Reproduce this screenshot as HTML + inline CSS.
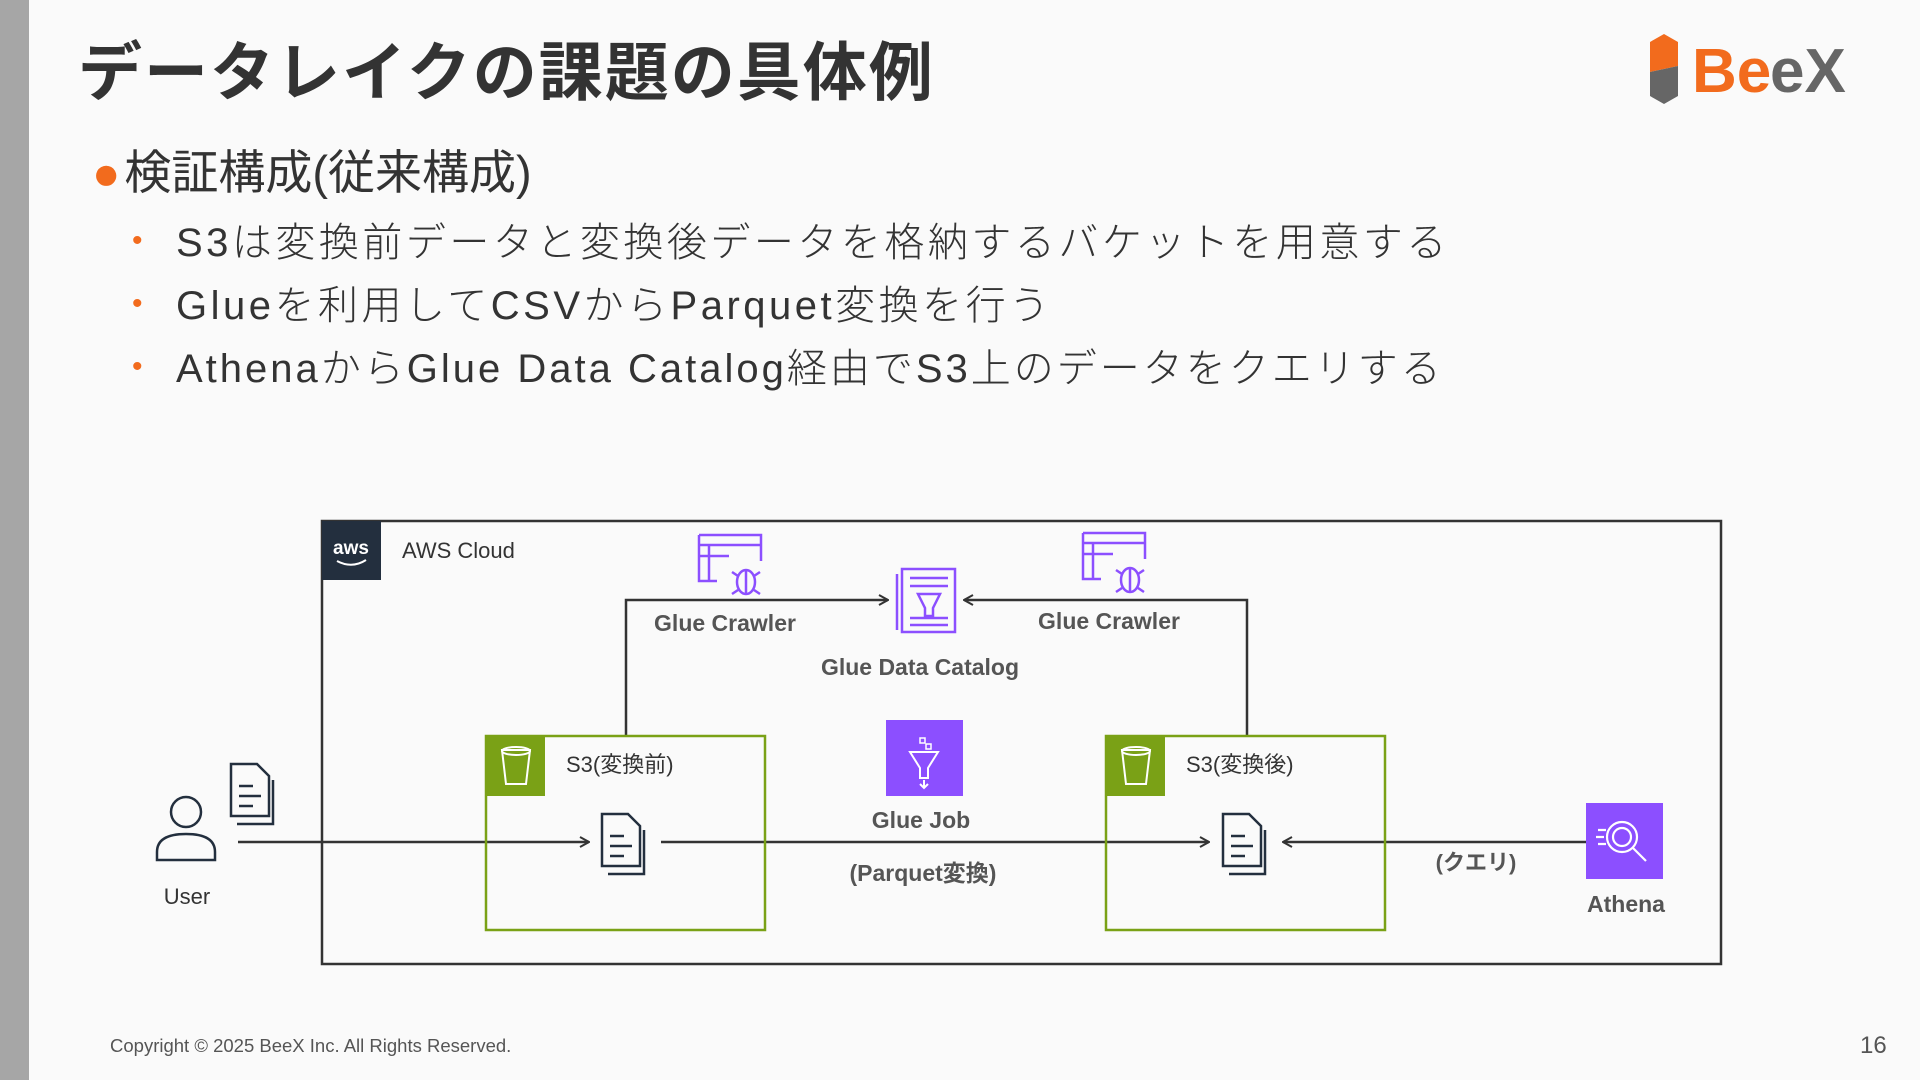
<!DOCTYPE html>
<html><head><meta charset="utf-8"><style>
html,body{margin:0;padding:0;}
body{width:1920px;height:1080px;position:relative;background:#fafafa;overflow:hidden;font-family:"Liberation Sans","Noto Sans CJK JP",sans-serif;color:#333;}
.abs{position:absolute;white-space:nowrap;}
.bar{left:0;top:0;width:29px;height:1080px;background:#a6a6a6;}
.title{left:78px;top:22px;font-size:64px;font-weight:bold;color:#333;letter-spacing:2px;}
.h2{left:92px;top:134px;font-size:47px;color:#333;}
.h2 span{color:#f26b1d;margin-right:4px;}
.li{left:132px;font-size:40px;letter-spacing:3.5px;color:#333;font-weight:300;}
.li b{color:#f26b1d;font-weight:normal;display:inline-block;width:44px;font-size:30px;vertical-align:middle;position:relative;top:-4px;}
.copy{left:110px;top:1035px;font-size:18.5px;color:#555;}
.pg{left:1860px;top:1032px;font-size:24px;color:#555;}
</style></head><body>
<div class="abs bar"></div>
<div class="abs title">データレイクの課題の具体例</div>
<div class="abs h2"><span>●</span>検証構成(従来構成)</div>
<div class="abs li" style="top:210px"><b>•</b>S3は変換前データと変換後データを格納するバケットを用意する</div>
<div class="abs li" style="top:273px"><b>•</b>Glueを利用してCSVからParquet変換を行う</div>
<div class="abs li" style="top:336px;letter-spacing:3px"><b>•</b>AthenaからGlue Data Catalog経由でS3上のデータをクエリする</div>
<div class="abs copy">Copyright © 2025 BeeX Inc. All Rights Reserved.</div>
<div class="abs pg">16</div>

<svg class="abs" style="left:0;top:0" width="1920" height="1080" viewBox="0 0 1920 1080" font-family="Liberation Sans, Noto Sans CJK JP, sans-serif">
<defs>
<marker id="ar" viewBox="0 0 12 12" refX="11" refY="6" markerWidth="12" markerHeight="12" markerUnits="userSpaceOnUse" orient="auto"><path d="M2,1 L11,6 L2,11" fill="none" stroke="#333" stroke-width="2"/></marker>
</defs>
<polygon points="1664,34 1678,42 1678,66 1650,72 1650,42" fill="#f26b1d"/>
<polygon points="1650,72 1678,66 1678,96 1664,104 1650,96" fill="#666"/>
<text x="1692" y="92" font-size="62" font-weight="bold" fill="#f26b1d">Be</text>
<text x="1770" y="92" font-size="62" font-weight="bold" fill="#666">eX</text>

<rect x="322" y="521" width="1399" height="443" fill="none" stroke="#333" stroke-width="2.5"/>
<rect x="322" y="521" width="59" height="59" fill="#232f3e"/>
<text x="351" y="554" font-size="19" fill="#fff" text-anchor="middle" font-weight="bold">aws</text>
<path d="M337,561 Q352,569 366,560" stroke="#fff" stroke-width="2" fill="none"/>
<text x="402" y="558" font-size="22" fill="#333">AWS Cloud</text>

<g stroke="#333" stroke-width="2.5" fill="none">
<polyline points="626,736 626,600 888,600" marker-end="url(#ar)"/>
<polyline points="1247,736 1247,600 964,600" marker-end="url(#ar)"/>
<line x1="238" y1="842" x2="589" y2="842" marker-end="url(#ar)"/>
<line x1="661" y1="842" x2="1209" y2="842" marker-end="url(#ar)"/>
<line x1="1586" y1="842" x2="1283" y2="842" marker-end="url(#ar)"/>
</g>

<g>
<rect x="486" y="736" width="279" height="194" fill="none" stroke="#7aa116" stroke-width="2.5"/>
<rect x="486" y="736" width="59" height="60" fill="#7aa116"/>
<path d="M502,750 h28 l-4,34 h-20 z" fill="none" stroke="#fff" stroke-width="2"/>
<ellipse cx="516" cy="751" rx="14" ry="4" fill="none" stroke="#fff" stroke-width="2"/>
<text x="566" y="772" font-size="22" fill="#333">S3(変換前)</text>
<rect x="1106" y="736" width="279" height="194" fill="none" stroke="#7aa116" stroke-width="2.5"/>
<rect x="1106" y="736" width="59" height="60" fill="#7aa116"/>
<path d="M1122,750 h28 l-4,34 h-20 z" fill="none" stroke="#fff" stroke-width="2"/>
<ellipse cx="1136" cy="751" rx="14" ry="4" fill="none" stroke="#fff" stroke-width="2"/>
<text x="1186" y="772" font-size="22" fill="#333">S3(変換後)</text>
</g>

<g fill="none" stroke="#232f3e" stroke-width="2.5">
<path d="M602,814 h26 l12,12 v40 h-38 z M610,836 h14 M610,846 h22 M610,856 h14 M644,830 v44 h-36"/>
<path d="M1223,814 h26 l12,12 v40 h-38 z M1231,836 h14 M1231,846 h22 M1231,856 h14 M1265,830 v44 h-36"/>
<path d="M231,764 h26 l12,12 v40 h-38 z M239,786 h14 M239,796 h22 M239,806 h14 M273,780 v44 h-36"/>
</g>

<g fill="none" stroke="#232f3e" stroke-width="2.5">
<circle cx="186" cy="812" r="15"/>
<path d="M157,860 v-8 q0,-18 29,-18 q29,0 29,18 v8 z"/>
</g>
<text x="187" y="904" font-size="22" fill="#333" text-anchor="middle">User</text>

<g fill="none" stroke="#8c4fff" stroke-width="2.5">
<path d="M699,535 h62 v26 M699,535 v46 h18 M699,545 h62 M699,556 h30 M709,545 v36"/>
<ellipse cx="746" cy="582" rx="9" ry="12"/><path d="M732,572 l6,4 M760,572 l-6,4 M732,594 l6,-4 M760,594 l-6,-4 M746,570 v24"/>
<path d="M1083,533 h62 v26 M1083,533 v46 h18 M1083,543 h62 M1083,554 h30 M1093,543 v36"/>
<ellipse cx="1130" cy="580" rx="9" ry="12"/><path d="M1116,570 l6,4 M1144,570 l-6,4 M1116,592 l6,-4 M1144,592 l-6,-4 M1130,568 v24"/>
</g>
<g fill="none" stroke="#8c4fff" stroke-width="2.5">
<rect x="902" y="569" width="53" height="63"/>
<path d="M897,574 v56 M910,578 h38 M910,586 h38 M910,618 h38 M910,625 h38 M918,594 h22 l-7,14 v8 h-8 v-8 z"/>
</g>
<text x="920" y="675" font-size="23" font-weight="bold" fill="#555" text-anchor="middle">Glue Data Catalog</text>
<text x="725" y="631" font-size="23" font-weight="bold" fill="#555" text-anchor="middle">Glue Crawler</text>
<text x="1109" y="629" font-size="23" font-weight="bold" fill="#555" text-anchor="middle">Glue Crawler</text>

<rect x="886" y="720" width="77" height="76" fill="#8c4fff"/>
<path d="M910,752 h28 l-10,16 v10 h-8 v-10 z M924,780 v8 M920,784 l4,4 4,-4" fill="none" stroke="#fff" stroke-width="2"/>
<rect x="920" y="738" width="5" height="5" fill="none" stroke="#fff" stroke-width="1.5"/>
<rect x="926" y="744" width="5" height="5" fill="none" stroke="#fff" stroke-width="1.5"/>
<text x="921" y="828" font-size="23" font-weight="bold" fill="#555" text-anchor="middle">Glue Job</text>
<text x="923" y="881" font-size="23" font-weight="bold" fill="#555" text-anchor="middle">(Parquet変換)</text>

<rect x="1586" y="803" width="77" height="76" fill="#8c4fff"/>
<g fill="none" stroke="#fff" stroke-width="2.2">
<circle cx="1622" cy="837" r="15"/><circle cx="1622" cy="837" r="9"/>
<path d="M1633,848 l13,13 M1598,830 h8 M1596,837 h8 M1598,844 h8"/>
</g>
<text x="1476" y="870" font-size="22" font-weight="bold" fill="#555" text-anchor="middle">(クエリ)</text>
<text x="1626" y="912" font-size="23" font-weight="bold" fill="#555" text-anchor="middle">Athena</text>
</svg>
</body></html>
